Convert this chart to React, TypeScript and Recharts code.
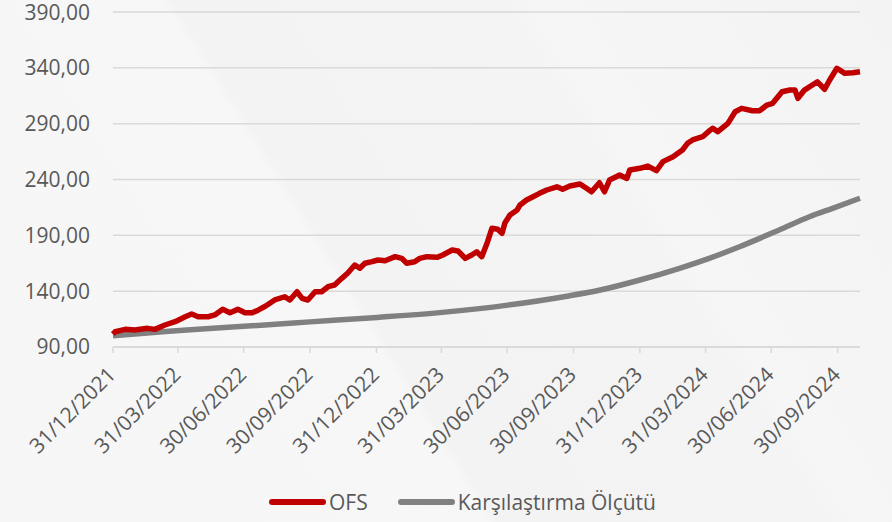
import { LineChart, Line, XAxis, YAxis, CartesianGrid, Legend } from "recharts"

// x = days since 31/12/2021
const quarterDays = [0, 90, 181, 273, 365, 455, 546, 638, 730, 821, 912, 1004]
const quarterLabels = [
    "31/12/2021", "31/03/2022", "30/06/2022", "30/09/2022", "31/12/2022", "31/03/2023",
    "30/06/2023", "30/09/2023", "31/12/2023", "31/03/2024", "30/06/2024", "30/09/2024",
]
const yTicks = [90, 140, 190, 240, 290, 340, 390]

// OFS [day, value]
const ofsSeries: [number, number][] = [
    [0, 101.5], [3, 103.7], [17, 105.8], [30, 105.2], [48, 106.7], [58, 105.8], [72, 109.7],
    [86, 112.7], [100, 117.1], [109, 119.5], [118, 117.1], [132, 117.1], [141, 118.7], [152, 123.7],
    [162, 120.7], [173, 123.7], [183, 120.7], [193, 120.7], [201, 123], [211, 126.5], [224, 132.1],
    [238, 135], [245, 132.1], [255, 139.5], [262, 133.6], [270, 132.1], [280, 139.5], [289, 139.5],
    [298, 144], [307, 145.5], [317, 151.5], [325, 156], [335, 163.4], [342, 160.5], [349, 165],
    [359, 166.4], [367, 167.9], [377, 167.3], [391, 170.9], [400, 169.4], [407, 165], [418, 166.4],
    [425, 169.4], [435, 170.9], [449, 170.3], [457, 172.4], [470, 176.9], [478, 176], [488, 169.4],
    [497, 172.4], [504, 175.3], [511, 170.9], [519, 184.3], [525, 196.3], [533, 195.4], [539, 191.8],
    [543, 201], [550, 208.2], [560, 212.7], [564, 217.2], [573, 221.6], [582, 224.6], [591, 227.6],
    [601, 230.6], [615, 233.5], [623, 231.2], [633, 234.2], [647, 236], [656, 232.1], [663, 229],
    [674, 237.1], [681, 229], [688, 239.5], [702, 244], [712, 241], [716, 248.5], [730, 250],
    [741, 252], [753, 247.9], [762, 256], [776, 260.4], [789, 266.4], [796, 272.4], [803, 275.4],
    [817, 278.3], [827, 284], [831, 285.9], [838, 282.8], [852, 290.3], [862, 300.7], [871, 303.7],
    [886, 301.6], [896, 301.6], [906, 306.7], [914, 308.2], [927, 318.6], [938, 320.1], [945, 320.1],
    [949, 312.7], [958, 320.1], [976, 327.5], [986, 320.8], [993, 329.1], [1003, 339.6], [1014, 335.1],
    [1025, 335.6], [1035, 336.5],
]

// Karşılaştırma Ölçütü [day, value]
const benchSeries: [number, number][] = [
    [0, 100], [82, 104.3], [181, 108.5], [273, 112.5], [366, 116.5], [456, 121], [547, 127.5],
    [629, 135.5], [675, 141], [730, 150], [785, 160.5], [826, 169.4], [868, 179.8], [896, 187.3],
    [923, 194.8], [965, 206.7], [997, 214.2], [1035, 223.2],
]

const ofsData = ofsSeries.map(([day, value]) => ({ day, value }))
const benchData = benchSeries.map(([day, value]) => ({ day, value }))

const FONT = "'Open Sans', sans-serif"
const TEXT = "#595959"
const RED = "#C00000"
const GRAY = "#808080"

const fmt = (v: number) => v.toFixed(2).replace(".", ",")

function DateTick({ x, y, payload }: any) {
    const i = quarterDays.indexOf(payload.value)
    return (
        <g transform={`translate(${x + 4},${y + 21})`}>
            <text textAnchor="end" transform="rotate(-45)" fill={TEXT} fontSize={21} fontFamily={FONT}>
                {quarterLabels[i]}
            </text>
        </g>
    )
}

function ChartLegend() {
    const item = (color: string, label: string) => (
        <div style={{ display: "flex", alignItems: "center" }}>
            <div style={{ width: 57, height: 6, borderRadius: 3, background: color }} />
            <span style={{ marginLeft: 3, fontSize: 21, color: TEXT, fontFamily: FONT }}>{label}</span>
        </div>
    )
    return (
        <div style={{ display: "flex", gap: 30, paddingLeft: 269 }}>
            {item(RED, "OFS")}
            {item(GRAY, "Karşılaştırma Ölçütü")}
        </div>
    )
}

export default function App() {
    return (
        <div
            style={{
                position: "fixed",
                left: 0,
                top: 0,
                width: 892,
                height: 522,
                background:
                    "linear-gradient(58deg, #f6f6f6 0%, #f7f7f7 40%, #f3f3f4 41%, #f4f4f5 68%, #f6f6f7 70%, #f3f3f4 100%)",
            }}
        >
            <LineChart width={892} height={522} margin={{ top: 12, right: 32, bottom: 75, left: 0 }}>
                <CartesianGrid vertical={false} stroke="#d9d9d9" strokeWidth={1.5} />
                <XAxis
                    type="number"
                    dataKey="day"
                    domain={[0, 1035]}
                    ticks={quarterDays}
                    interval={0}
                    height={100}
                    stroke="#d9d9d9"
                    strokeWidth={1.5}
                    tickSize={6}
                    tick={<DateTick />}
                />
                <YAxis
                    domain={[90, 390]}
                    ticks={yTicks}
                    width={113}
                    axisLine={false}
                    tickLine={false}
                    tickSize={0}
                    tickMargin={23}
                    tickFormatter={fmt}
                    tick={{ fill: TEXT, fontSize: 21, fontFamily: FONT }}
                />
                <Legend verticalAlign="middle" align="center" layout="horizontal"
                    wrapperStyle={{ top: 488, left: 0, width: 892 }}
                    content={<ChartLegend />} />
                <Line
                    data={benchData}
                    dataKey="value"
                    type="monotone"
                    stroke={GRAY}
                    strokeWidth={5.5}
                    dot={false}
                    isAnimationActive={false}
                />
                <Line
                    data={ofsData}
                    dataKey="value"
                    type="linear"
                    stroke={RED}
                    strokeWidth={5.5}
                    strokeLinejoin="round"
                    dot={false}
                    isAnimationActive={false}
                />
            </LineChart>
        </div>
    )
}
